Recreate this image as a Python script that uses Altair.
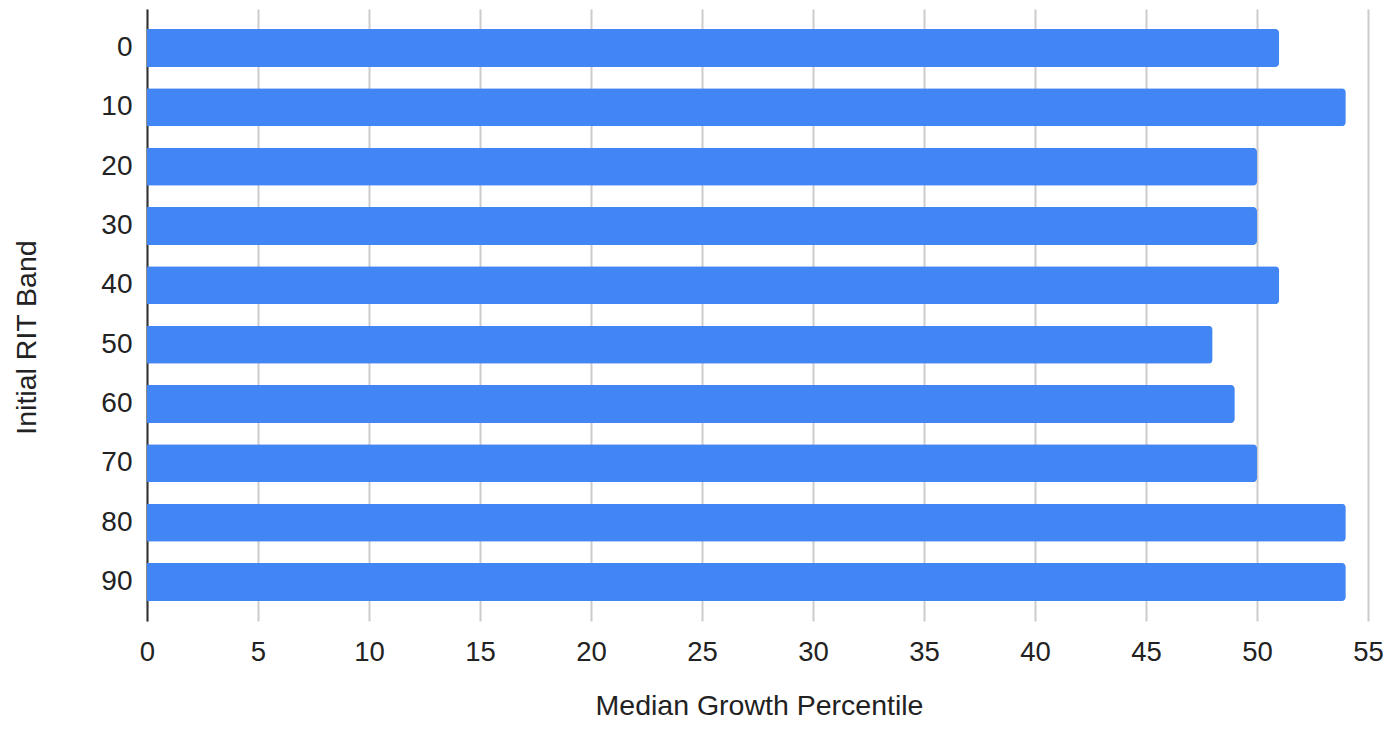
import altair as alt
import pandas as pd

bands = ["0", "10", "20", "30", "40", "50", "60", "70", "80", "90"]
median_growth = [51, 54, 50, 50, 51, 48, 49, 50, 54, 54]
x_ticks = [0, 5, 10, 15, 20, 25, 30, 35, 40, 45, 50, 55]

df = pd.DataFrame({"band": bands, "value": median_growth})

FONT = "Liberation Sans"

chart = alt.Chart(df).mark_bar(
    color="#4285F4", cornerRadiusEnd=4
).encode(
    x=alt.X(
        "value:Q",
        scale=alt.Scale(domain=[0, 55], nice=False, zero=True),
        axis=alt.Axis(
            values=x_ticks,
            title="Median Growth Percentile",
            titleFont=FONT,
            titleFontSize=28.5,
            titleFontWeight="normal",
            titleColor="#222222",
            titleX=612,
            titleY=93,
            titleAnchor="middle",
            titleAlign="center",
            titleBaseline="alphabetic",
            labelFont=FONT,
            labelFontSize=27.5,
            labelColor="#222222",
            labelPadding=17,
            labelBaseline="top",
            ticks=False,
            domain=False,
            grid=True,
            gridColor="#cccccc",
            gridWidth=2,
            labelFlush=False,
        ),
    ),
    y=alt.Y(
        "band:N",
        sort=bands,
        scale=alt.Scale(paddingInner=0.36, paddingOuter=0.337),
        axis=alt.Axis(
            title="Initial RIT Band",
            titleFont=FONT,
            titleFontSize=28.5,
            titleFontWeight="normal",
            titleColor="#222222",
            titleX=-112,
            titleY=328,
            titleAngle=-90,
            titleAlign="center",
            titleBaseline="alphabetic",
            labelFont=FONT,
            labelFontSize=28,
            labelColor="#222222",
            labelPadding=15,
            ticks=False,
            domain=True,
            domainColor="#333333",
            domainWidth=2,
            grid=False,
        ),
    ),
).properties(
    width=1221,
    height=612,
    autosize=alt.AutoSizeParams(type="none"),
    padding={"left": 139, "top": 1, "right": 15, "bottom": 101},
).configure_view(
    strokeWidth=0
)

chart.save("out.html", embed_options={"renderer": "svg", "actions": False})
